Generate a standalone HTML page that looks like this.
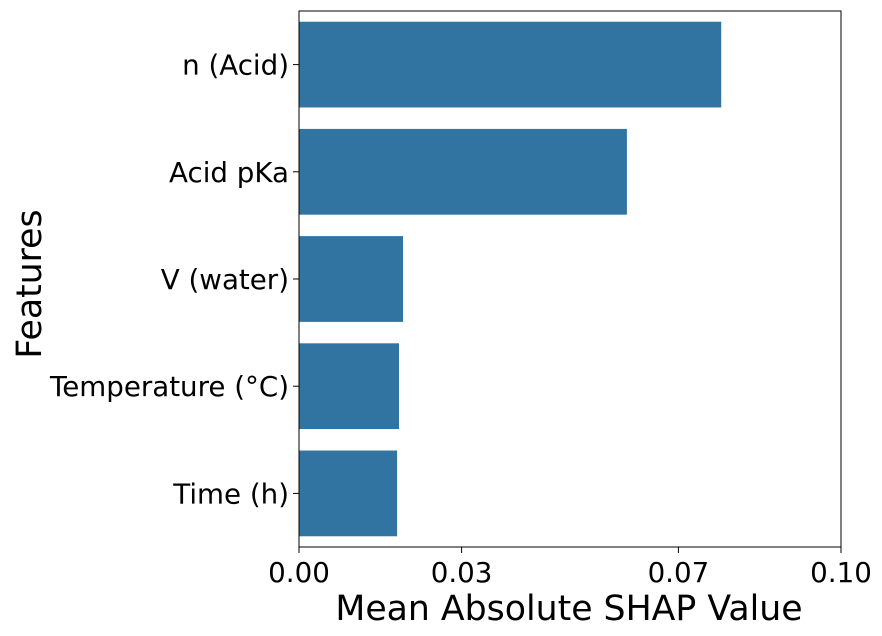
<!DOCTYPE html>
<html><head><meta charset="utf-8"><style>
html,body{margin:0;padding:0;background:#fff;}
svg{display:block;font-family:"DejaVu Sans","Liberation Sans",sans-serif;}
</style></head><body>
<svg id="chart" width="882" height="636"></svg>
<script>
const categories = ["n (Acid)", "Acid pKa", "V (water)", "Temperature (°C)", "Time (h)"];
const values = [0.0779, 0.0605, 0.0192, 0.01845, 0.0181];
const tickValues = [0, 0.03, 0.07, 0.1];
const tickLabels = ["0.00", "0.03", "0.07", "0.10"];

const svg = document.getElementById('chart');
const NS = 'http://www.w3.org/2000/svg';
const L = 299, R = 841, T = 11, B = 547;
const xMax = 0.1;
const x = v => L + (v / xMax) * (R - L);
const band = (B - T) / categories.length;
const yC = i => T + band * (i + 0.5);
function mk(tag, attrs, parent) {
  const e = document.createElementNS(NS, tag);
  for (const k in attrs) e.setAttribute(k, attrs[k]);
  (parent || svg).appendChild(e);
  return e;
}
categories.forEach((c, i) => {
  const r = mk('rect', {x: L, y: yC(i) - band * 0.4, width: x(values[i]) - L, height: band * 0.8, fill: '#3274a1'});
  
  
  const tk = mk('line', {x1: L - 6, x2: L, y1: yC(i), y2: yC(i), stroke: '#000', 'stroke-width': 1});
  
  
  const t = mk('text', {x: L - 10, y: yC(i) + 10, 'text-anchor': 'end', 'font-size': 27.7, fill: '#000'});
  t.textContent = c;
  
  
});
tickValues.forEach((v, i) => {
  const tk = mk('line', {x1: x(v), x2: x(v), y1: B, y2: B + 6, stroke: '#000', 'stroke-width': 1});
  
  
  const t = mk('text', {x: x(v), y: B + 35, 'text-anchor': 'middle', 'font-size': 27.7, fill: '#000'});
  t.textContent = tickLabels[i];
  
  
});
const frame = mk('rect', {x: L, y: T, width: R - L, height: B - T, fill: 'none', stroke: '#000', 'stroke-width': 1});


const xt = mk('text', {x: (L + R) / 2 - 1, y: 620, 'text-anchor': 'middle', 'font-size': 34.7, fill: '#000'});
xt.textContent = 'Mean Absolute SHAP Value';


const yt = mk('text', {x: 0, y: 0, 'text-anchor': 'middle', 'font-size': 34.7, fill: '#000', transform: 'translate(41,' + ((T + B) / 2 + 5) + ') rotate(-90)'});
yt.textContent = 'Features';


</script>
</body></html>
